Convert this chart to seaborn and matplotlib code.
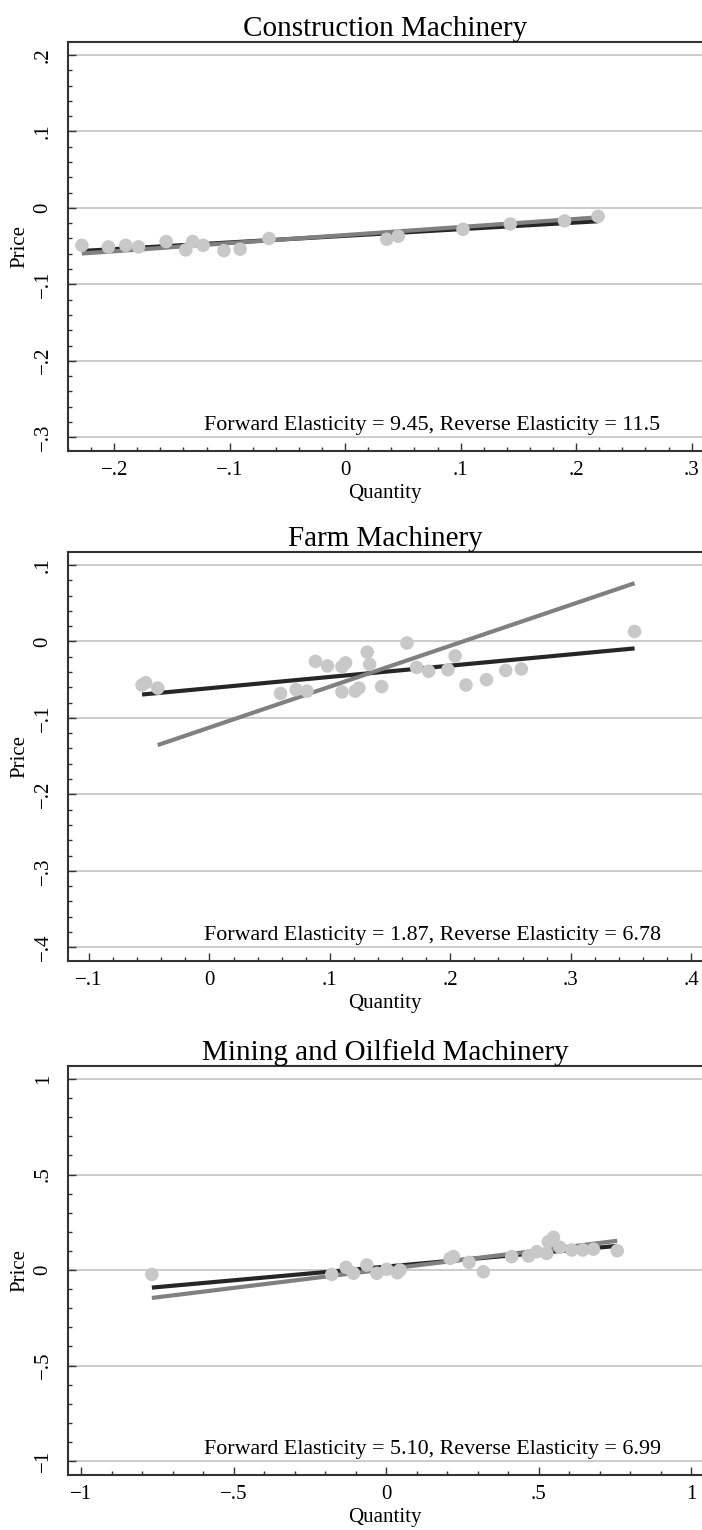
import numpy as np
import pandas as pd
import matplotlib
matplotlib.use("Agg")
import matplotlib.pyplot as plt
import seaborn as sns
from matplotlib.ticker import MultipleLocator, FuncFormatter

# ---- data: growth in quantity and price, by industry ----
constr_q = [-0.228, -0.205, -0.190, -0.179, -0.155, -0.138, -0.132, -0.123, -0.105,
            -0.091, -0.066, 0.036, 0.046, 0.102, 0.143, 0.190, 0.219]
constr_p = [-0.049, -0.051, -0.049, -0.051, -0.044, -0.055, -0.044, -0.049, -0.056,
            -0.054, -0.040, -0.041, -0.037, -0.028, -0.021, -0.017, -0.011]
constr_fwd, constr_rev = 9.45, 11.5

farm_q = [-0.056, -0.053, -0.043, 0.059, 0.072, 0.081, 0.088, 0.098, 0.110, 0.113,
          0.110, 0.121, 0.124, 0.131, 0.133, 0.143, 0.164, 0.172, 0.182, 0.198,
          0.204, 0.213, 0.230, 0.246, 0.259, 0.353]
farm_p = [-0.057, -0.054, -0.061, -0.068, -0.063, -0.065, -0.026, -0.032, -0.033, -0.028,
          -0.066, -0.065, -0.061, -0.014, -0.030, -0.059, -0.002, -0.034, -0.039, -0.037,
          -0.019, -0.057, -0.050, -0.038, -0.036, 0.013]
farm_fwd, farm_rev = 1.87, 6.78
farm_fwd_span = [-0.043, 0.353]

mine_q = [-0.768, -0.178, -0.131, -0.107, -0.063, -0.030, 0.002, 0.037, 0.046, 0.210,
          0.221, 0.272, 0.319, 0.412, 0.467, 0.494, 0.527, 0.532, 0.549, 0.570,
          0.609, 0.645, 0.680, 0.758]
mine_p = [-0.023, -0.023, 0.014, -0.017, 0.026, -0.017, 0.004, -0.014, 0.000, 0.061,
          0.070, 0.040, -0.009, 0.070, 0.073, 0.096, 0.087, 0.148, 0.171, 0.119,
          0.105, 0.105, 0.109, 0.101]
mine_fwd, mine_rev = 5.10, 6.99

titles = ["Construction Machinery", "Farm Machinery", "Mining and Oilfield Machinery"]

sns.set_theme(style="white")
plt.rcParams["font.family"] = ["Liberation Serif", "DejaVu Serif"]
plt.rcParams["axes.unicode_minus"] = True
plt.rcParams["text.color"] = "black"
plt.rcParams["axes.labelcolor"] = "black"
plt.rcParams["xtick.color"] = "black"
plt.rcParams["ytick.color"] = "black"

DARK = "#262626"
MID = "#808080"
DOT = "#c8c8c8"
GRID = "#c4c4c4"
SPINE = "#333333"


def stata_fmt(v, pos=None):
    if abs(v) < 1e-9:
        return "0"
    s = f"{abs(v):g}"
    if s.startswith("0"):
        s = s[1:]
    return ("\u2212" if v < 0 else "") + s


panels = [
    dict(title=titles[0], q=constr_q, p=constr_p, fwd=constr_fwd, rev=constr_rev,
         fwd_span=None, xlim=(-0.24, 0.309), ylim=(-0.318, 0.217),
         xt=np.arange(-0.2, 0.31, 0.1), yt=np.arange(-0.3, 0.21, 0.1),
         xminor=0.02, yminor=0.02, top=42),
    dict(title=titles[1], q=farm_q, p=farm_p, fwd=farm_fwd, rev=farm_rev,
         fwd_span=farm_fwd_span, xlim=(-0.1175, 0.409), ylim=(-0.418, 0.117),
         xt=np.arange(-0.1, 0.41, 0.1), yt=np.arange(-0.4, 0.11, 0.1),
         xminor=0.02, yminor=0.02, top=552),
    dict(title=titles[2], q=mine_q, p=mine_p, fwd=mine_fwd, rev=mine_rev,
         fwd_span=None, xlim=(-1.043, 1.036), ylim=(-1.073, 1.068),
         xt=np.arange(-1.0, 1.01, 0.5), yt=np.arange(-1.0, 1.01, 0.5),
         xminor=0.1, yminor=0.1, top=1066),
]

W, H = 702, 1530
fig = plt.figure(figsize=(W / 100, H / 100), dpi=100)

for pn in panels:
    ax_h = 409
    ax = fig.add_axes([68 / W, 1 - (pn["top"] + ax_h) / H, (W - 68) / W, ax_h / H])
    df = pd.DataFrame({"Quantity": pn["q"], "Price": pn["p"]})
    qm, pm = df["Quantity"].mean(), df["Price"].mean()
    qlo, qhi = df["Quantity"].min(), df["Quantity"].max()

    # reverse regression (price on quantity) and forward regression (quantity on price)
    rx = np.array([qlo, qhi])
    ry = pm + (rx - qm) / pn["rev"]
    fx = np.array(pn["fwd_span"] if pn["fwd_span"] is not None else [qlo, qhi])
    fy = pm + (fx - qm) / pn["fwd"]
    ax.plot(rx, ry, color=DARK, lw=3.0, solid_capstyle="butt", zorder=2)
    ax.plot(fx, fy, color=MID, lw=3.0, solid_capstyle="butt", zorder=3)

    sns.scatterplot(data=df, x="Quantity", y="Price", ax=ax, s=95, color=DOT,
                    edgecolor="none", linewidth=0, zorder=4)

    ax.set_xlim(*pn["xlim"])
    ax.set_ylim(*pn["ylim"])
    ax.set_xticks(pn["xt"])
    ax.set_yticks(pn["yt"])
    ax.xaxis.set_minor_locator(MultipleLocator(pn["xminor"]))
    ax.yaxis.set_minor_locator(MultipleLocator(pn["yminor"]))
    ax.xaxis.set_major_formatter(FuncFormatter(stata_fmt))
    ax.yaxis.set_major_formatter(FuncFormatter(stata_fmt))

    ax.yaxis.grid(True, which="major", color=GRID, lw=1.2)
    ax.xaxis.grid(False)
    ax.set_axisbelow(True)

    ax.tick_params(which="both", direction="in", color=SPINE, width=1.0,
                   bottom=True, left=True, top=False, right=False)
    ax.tick_params(which="major", length=5.8, labelsize=15, labelcolor="black")
    ax.tick_params(which="minor", length=3.2)
    ax.tick_params(axis="x", which="major", pad=7)
    ax.tick_params(axis="y", which="major", pad=11, labelrotation=90)
    for lab in ax.get_yticklabels():
        lab.set_va("center")

    for side in ["left", "bottom", "top"]:
        ax.spines[side].set_visible(True)
        ax.spines[side].set_color(SPINE)
        ax.spines[side].set_linewidth(1.5)
    ax.spines["right"].set_visible(False)

    ax.set_title(pn["title"], fontsize=21, pad=3, color="black")
    ax.set_xlabel("Quantity", fontsize=15, labelpad=3, color="black")
    ax.set_ylabel("Price", fontsize=15, labelpad=3, color="black")

    ax.text(0.575, 0.062,
            f"Forward Elasticity = {pn['fwd']:#.3g}, Reverse Elasticity = {pn['rev']:#.3g}",
            transform=ax.transAxes, ha="center", va="center", fontsize=15.8,
            color="black", zorder=5)

fig.savefig("out.png", dpi=100)
